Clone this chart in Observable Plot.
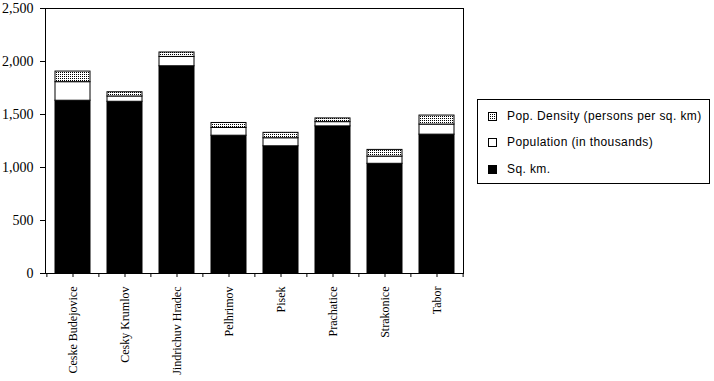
<!DOCTYPE html>
<html><head><meta charset="utf-8">
<script src="https://cdn.jsdelivr.net/npm/d3@7"></script>
<script src="https://cdn.jsdelivr.net/npm/@observablehq/plot@0.6"></script>
<style>
body{margin:0;background:#fff}
#wrap{position:relative;width:714px;height:381px}
#legend{position:absolute;left:477px;top:99px;width:233px;height:85px;border:1px solid #000;box-sizing:border-box;background:#fff;font:12px "Liberation Sans",Arial,sans-serif;letter-spacing:0.4px;color:#000}
.row{position:absolute;left:10px;height:14px;display:flex;align-items:center;white-space:nowrap}
.row svg{margin-right:10px;display:block}
</style></head><body><div id="wrap"></div>
<script>
const districts = ["Ceske Budejovice","Cesky Krumlov","Jindrichuv Hradec","Pelhrimov","Pisek","Prachatice","Strakonice","Tabor"];
const sqKm = [1630, 1620, 1955, 1300, 1200, 1388, 1035, 1310];
const population = [175, 50, 88, 73, 76, 40, 68, 95];
const density = [100, 40, 42, 47, 51, 35, 63, 85];
const seriesNames = ["Pop. Density (persons per sq. km)", "Population (in thousands)", "Sq. km."];
const seriesFills = ["url(#dots)", "white", "black"];
const yTicks = [0, 500, 1000, 1500, 2000, 2500];

const rows = districts.map((d, i) => ({district: d, sq: sqKm[i], pop: population[i], dens: density[i]}));

const W = 714, H = 381, mL = 45, mR = 251, mT = 8, mB = 108;
const half = (W - mL - mR) / districts.length / 2;

const svg = Plot.plot({
  width: W, height: H,
  marginLeft: mL, marginRight: mR, marginTop: mT, marginBottom: mB,
  style: {fontFamily: "'Liberation Serif', 'Times New Roman', serif", fontSize: "12px", background: "white", color: "black"},
  x: {domain: districts, paddingInner: 0.33, paddingOuter: 0.165, label: null},
  y: {domain: [0, 2500], label: null},
  marks: [
    Plot.barY(rows, {x: "district", y1: 0, y2: "sq", fill: seriesFills[2], stroke: "black", strokeWidth: 1}),
    Plot.barY(rows, {x: "district", y1: "sq", y2: d => d.sq + d.pop, fill: seriesFills[1], stroke: "black", strokeWidth: 1}),
    Plot.barY(rows, {x: "district", y1: d => d.sq + d.pop, y2: d => d.sq + d.pop + d.dens, fill: seriesFills[0], stroke: "black", strokeWidth: 1}),
    Plot.frame({stroke: "black", strokeWidth: 1}),
    Plot.axisY({ticks: yTicks, tickSize: 5, tickPadding: 7, tickFormat: d3.format(","), fontSize: 14, label: null}),
    Plot.axisX({tickSize: 4, tickPadding: 9, tickRotate: -90, fontSize: 12, label: null}),
    Plot.ruleX(districts, {x: d => d, dx: -half, y1: 0, y2: 0, insetBottom: -4, stroke: "black"}),
    Plot.ruleX([districts[districts.length - 1]], {x: d => d, dx: half, y1: 0, y2: 0, insetBottom: -4, stroke: "black"})
  ]
});

const defs = d3.select(svg).insert("defs", ":first-child");
const pat = defs.append("pattern").attr("id", "dots").attr("width", 2).attr("height", 2).attr("patternUnits", "userSpaceOnUse");
pat.append("rect").attr("width", 2).attr("height", 2).attr("fill", "white");
pat.append("rect").attr("width", 1).attr("height", 1).attr("fill", "black");

const wrap = document.getElementById("wrap");
wrap.appendChild(svg);

const legend = document.createElement("div");
legend.id = "legend";
const rowTops = [9, 35, 62];
seriesNames.forEach((name, i) => {
  const r = document.createElement("div");
  r.className = "row";
  r.style.top = rowTops[i] + "px";
  r.innerHTML = `<svg width="9" height="9"><rect x="0.5" y="0.5" width="8" height="8" fill="${seriesFills[i]}" stroke="black"/></svg><span></span>`;
  r.querySelector("span").textContent = name;
  legend.appendChild(r);
});
wrap.appendChild(legend);
</script>
</body></html>
